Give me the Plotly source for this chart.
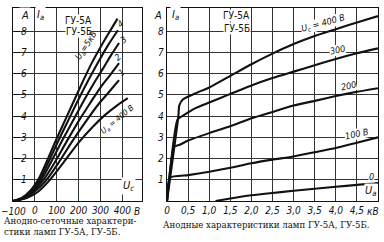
import plotly.graph_objects as go

# ---------- Left chart: grid characteristics Ia(Uc) ----------
grid_curve_labels = ["5 кВ", "4", "3", "2", "1", "400 В"]
vg_5kv = [-100, -60, -20, 20, 60, 100, 140, 180, 220, 260, 300, 340, 378]
ia_5kv = [0.02, 0.15, 0.5, 1.1, 2.0, 2.95, 3.85, 4.75, 5.65, 6.5, 7.25, 7.95, 8.6]
vg_4kv = [-95, -55, -15, 25, 65, 110, 155, 200, 245, 290, 335, 380]
ia_4kv = [0.02, 0.15, 0.5, 1.05, 1.9, 2.9, 3.85, 4.8, 5.7, 6.55, 7.35, 8.05]
vg_3kv = [-92, -50, -10, 30, 75, 125, 178, 225, 270, 315, 350, 385]
ia_3kv = [0.02, 0.15, 0.5, 1.0, 1.85, 2.85, 3.85, 4.75, 5.55, 6.3, 6.9, 7.45]
vg_2kv = [-90, -45, -5, 40, 90, 145, 205, 255, 300, 345, 385]
ia_2kv = [0.02, 0.15, 0.5, 1.0, 1.8, 2.8, 3.85, 4.65, 5.35, 5.95, 6.5]
vg_1kv = [-88, -40, 0, 50, 105, 170, 240, 290, 340, 385]
ia_1kv = [0.02, 0.15, 0.45, 0.95, 1.75, 2.8, 3.85, 4.55, 5.15, 5.7]
vg_400v = [-85, -35, 10, 65, 130, 200, 265, 320, 375, 425]
ia_400v = [0.02, 0.15, 0.4, 0.95, 1.8, 2.75, 3.5, 4.05, 4.5, 4.85]
grid_x_ticks = [-100, 0, 100, 200, 300, 400]
grid_x_ticktext = ["", "0", "100", "200", "300", "400"]

# ---------- Right chart: anode characteristics Ia(Ua) ----------
anode_curve_labels = ["Uc = 400 В", "300", "200", "100 В", "0"]
ua_400 = [0, 0.27, 0.29, 0.38, 0.7, 1.0, 1.5, 2.0, 2.5, 3.0, 3.5, 4.0, 4.5, 5.0]
ia_400 = [0, 4.0, 4.5, 4.8, 5.1, 5.35, 5.9, 6.45, 6.95, 7.4, 7.78, 8.1, 8.42, 8.72]
ua_300 = [0, 0.25, 0.4, 0.7, 1.0, 1.5, 2.0, 2.5, 3.0, 3.5, 4.0, 4.5, 5.0]
ia_300 = [0, 3.84, 4.05, 4.4, 4.64, 5.05, 5.45, 5.8, 6.1, 6.4, 6.7, 6.97, 7.2]
ua_200 = [0, 0.17, 0.3, 0.5, 1.0, 1.5, 2.0, 2.5, 3.0, 3.5, 4.0, 4.5, 5.0]
ia_200 = [0, 2.56, 2.65, 2.85, 3.2, 3.52, 3.9, 4.2, 4.5, 4.72, 4.95, 5.15, 5.32]
ua_100 = [0, 0.07, 0.5, 1.0, 1.5, 2.0, 2.5, 3.0, 3.5, 4.0, 4.5, 5.0]
ia_100 = [0, 1.1, 1.22, 1.38, 1.57, 1.78, 1.95, 2.1, 2.3, 2.5, 2.75, 3.0]
ua_0 = [1.15, 1.5, 2.0, 2.5, 3.0, 3.5, 4.0, 4.5, 5.0]
ia_0 = [0.0, 0.12, 0.27, 0.38, 0.48, 0.58, 0.67, 0.76, 0.85]
anode_x_ticks = [0, 0.5, 1.0, 1.5, 2.0, 2.5, 3.0, 3.5, 4.0, 4.5]
anode_x_ticktext = ["0", "0,5", "1,0", "1,5", "2,0", "2,5", "3,0", "3,5", "4,0", "4,5"]
y_ticks = [1, 2, 3, 4, 5, 6, 7, 8]

TICKFONT = dict(family="Liberation Sans Narrow, DejaVu Sans Condensed, DejaVu Sans",
                size=10, color="#111", style="italic")
SERIF = "DejaVu Serif, Liberation Serif, serif"
CURVE = dict(color="#111", width=2.1)

fig = go.Figure()
left_sets = [(vg_5kv, ia_5kv), (vg_4kv, ia_4kv), (vg_3kv, ia_3kv),
             (vg_2kv, ia_2kv), (vg_1kv, ia_1kv), (vg_400v, ia_400v)]
for i, (xs, ys) in enumerate(left_sets):
    fig.add_trace(go.Scatter(x=xs, y=ys, mode="lines", line=dict(shape="spline", smoothing=0.8, **CURVE),
                             xaxis="x", yaxis="y3" if i == len(left_sets) - 1 else "y",
                             showlegend=False, hoverinfo="skip"))
for xs, ys in [(ua_400, ia_400), (ua_300, ia_300), (ua_200, ia_200), (ua_100, ia_100), (ua_0, ia_0)]:
    fig.add_trace(go.Scatter(x=xs, y=ys, mode="lines", line=dict(shape="spline", smoothing=0.5, **CURVE),
                             xaxis="x2", yaxis="y2", showlegend=False, hoverinfo="skip"))

axis_common = dict(showline=True, mirror=True, linecolor="#111", linewidth=1.3,
                   showgrid=True, gridcolor="#333333", gridwidth=1, zeroline=False,
                   tickfont=TICKFONT, fixedrange=True, automargin=False)

Y_DOMAIN = [1 - 201/242, 1 - 8/242]
fig.update_layout(
    width=384, height=242, margin=dict(l=0, r=0, t=0, b=0, autoexpand=False),
    paper_bgcolor="white", plot_bgcolor="white",
    xaxis=dict(domain=[13/384, 142/384], range=[-100, 490], tickvals=grid_x_ticks,
               ticktext=grid_x_ticktext, ticks="", anchor="y", ticklabeloverflow="allow",
               **axis_common),
    yaxis=dict(domain=Y_DOMAIN, range=[0, 9.1], tickvals=y_ticks, showticklabels=False,
               ticks="", anchor="x", **axis_common),
    yaxis3=dict(overlaying="y", anchor="free", position=13/384, range=[0, 9.1], tickvals=y_ticks,
                ticks="inside", ticklen=6, tickcolor="#111", tickwidth=1.2,
                ticklabelposition="inside", showgrid=False, showline=False, zeroline=False,
                tickfont=TICKFONT, fixedrange=True),
    xaxis2=dict(domain=[167/384, 378/384], range=[0, 5.0], tickvals=anode_x_ticks,
                ticktext=anode_x_ticktext, ticks="", anchor="y2", ticklabeloverflow="allow",
                **axis_common),
    yaxis2=dict(domain=Y_DOMAIN, range=[0, 9.1], tickvals=y_ticks,
                ticks="", anchor="x2", ticklabeloverflow="allow", **axis_common),
)

def ann(text, x, y, xref, yref, size=10, angle=0, bg=None, font=None, style="italic", **kw):
    d = dict(text=text, x=x, y=y, xref=xref, yref=yref, showarrow=False, textangle=angle,
             font=dict(family=font or TICKFONT["family"], size=size, color="#111", style=style), **kw)
    if bg:
        d["bgcolor"] = bg
    fig.add_annotation(**d)

# left chart texts
ann("A", -45, 8.75, "x", "y", size=11, bg="white")
ann("I<sub>a</sub>", 28, 8.75, "x", "y", size=11, bg="white")
ann("ГУ-5А", 200, 8.5, "x", "y", size=10, style="normal", bg="white", borderpad=0)
ann("ГУ-5Б", 200, 8.0, "x", "y", size=10, style="normal", bg="white", borderpad=0)
ann("U<sub>a</sub>=5кВ", 235, 7.35, "x", "y", size=9, angle=-57)
ann("4", 392, 8.35, "x", "y", size=9, angle=-40)
ann("3", 405, 7.6, "x", "y", size=9, angle=-40)
ann("2", 380, 6.8, "x", "y", size=9, angle=-40)
ann("1", 394, 6.05, "x", "y", size=9, angle=-40)
ann("U<sub>a</sub> = 400 В", 378, 3.8, "x", "y", size=8, angle=-40)
ann("U<sub>c</sub>", 428, 0.72, "x", "y", size=11, bg="white")
ann("−100", 13/384, 1 - 211/242, "paper", "paper", size=10, xanchor="center", yanchor="middle")
ann("В", 137/384, 1 - 211/242, "paper", "paper", size=10, xanchor="center", yanchor="middle")

# right chart texts
ann("A", 158/384, 1 - 15/242, "paper", "paper", size=11, xanchor="center", yanchor="middle")
ann("I<sub>a</sub>", 0.2, 8.75, "x2", "y2", size=11, bg="white")
ann("ГУ-5А", 1.65, 8.75, "x2", "y2", size=10, style="normal", bg="white", borderpad=0)
ann("ГУ-5Б", 1.65, 8.15, "x2", "y2", size=10, style="normal", bg="white", borderpad=0)
ann("U<sub>c</sub> = 400 В", 3.7, 8.35, "x2", "y2", size=9, angle=-15, bg="white", borderpad=0)
ann("300", 4.05, 7.1, "x2", "y2", size=9, angle=-12, bg="white", borderpad=0)
ann("200", 4.3, 5.4, "x2", "y2", size=9, angle=-12, bg="white", borderpad=0)
ann("100 В", 4.5, 3.15, "x2", "y2", size=9, angle=-12, bg="white", borderpad=0)
ann("0", 4.85, 1.12, "x2", "y2", size=9, bg="white", borderpad=0)
ann("U<sub>a</sub>", 4.83, 0.45, "x2", "y2", size=11, bg="white", borderpad=0)
ann("кВ", 373/384, 1 - 211/242, "paper", "paper", size=10, xanchor="center", yanchor="middle")

# captions
ann("Анодно-сеточные характери-<br>стики ламп ГУ-5А, ГУ-5Б.", 70/384, 1 - 226/242, "paper", "paper",
    size=8.6, font=SERIF, style="normal", xanchor="center", yanchor="middle", align="left")
ann("Анодные характеристики ламп ГУ-5А, ГУ-5Б.", 266/384, 1 - 225/242, "paper", "paper",
    size=8.6, font=SERIF, style="normal", xanchor="center", yanchor="middle")

fig.write_html("out.html")
